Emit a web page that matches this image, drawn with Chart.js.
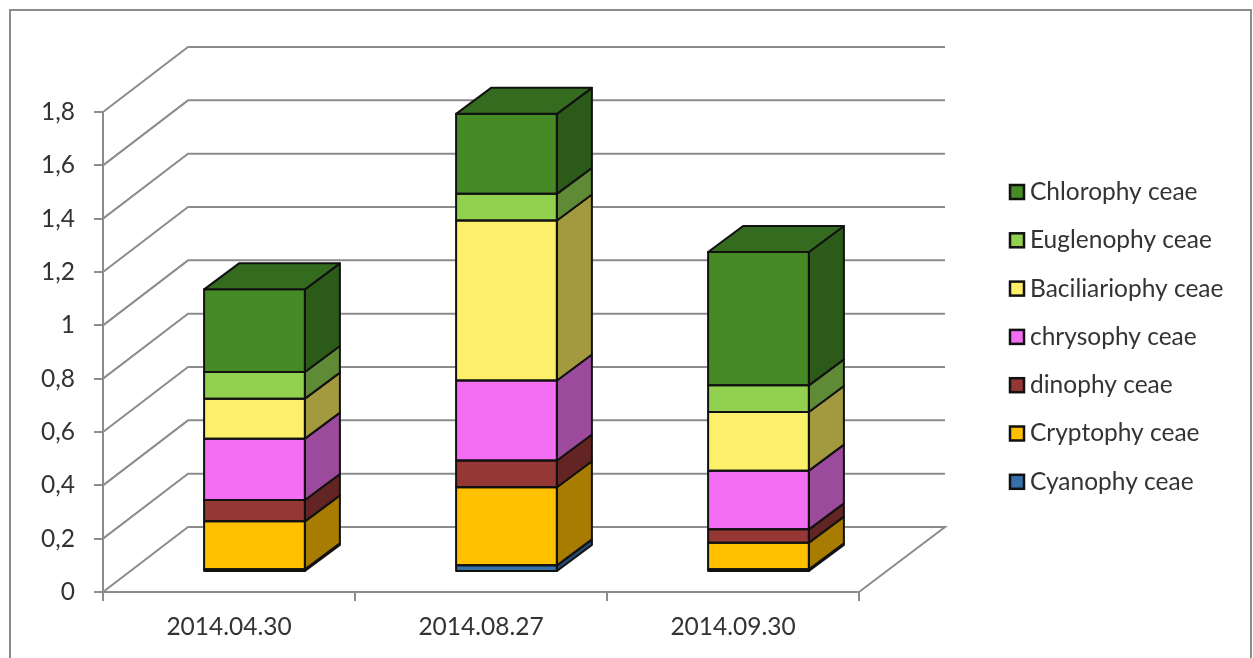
<!DOCTYPE html>
<html>
<head>
<meta charset="utf-8">
<style>
  html, body { margin: 0; padding: 0; background: #fff; }
  #wrap { position: relative; width: 1253px; height: 658px; }
</style>
<script src="https://cdn.jsdelivr.net/npm/chart.js@4"></script>
</head>
<body>
<div id="wrap"><canvas id="chart"></canvas></div>
<script>
const categories = ['2014.04.30', '2014.08.27', '2014.09.30'];

const cyanophyceae = [0.01, 0.025, 0.01];
const cryptophyceae = [0.18, 0.293, 0.1];
const dinophyceae = [0.08, 0.1, 0.05];
const chrysophyceae = [0.23, 0.3, 0.22];
const baciliariophyceae = [0.15, 0.6, 0.22];
const euglenophyceae = [0.1, 0.1, 0.1];
const chlorophyceae = [0.31, 0.3, 0.5];

const frontColors = ['#376fa8', '#ffc000', '#953735', '#f46ef4', '#fcf06a', '#92d050', '#468a26'];
const sideColors = ['#254a70', '#a87c00', '#632523', '#9c4a9c', '#a39a40', '#5f8a36', '#2c5a18'];
const topColor = '#356b1e';
const gridColor = '#8c8c8c';
const edgeColor = '#111';
const fontName = 'Lato, sans-serif';

// depth of the floor, and of the plane the bars stand on
const wallDX = 85, wallDY = -65;
const barDX = 25.5, barDY = -20;
const sideDX = 35, sideDY = -26;

function poly(ctx, pts, fill) {
  ctx.beginPath();
  pts.forEach((p, i) => i ? ctx.lineTo(p[0], p[1]) : ctx.moveTo(p[0], p[1]));
  ctx.closePath();
  ctx.fillStyle = fill;
  ctx.fill();
  ctx.stroke();
}

const frame3d = {
  id: 'frame3d',
  beforeDraw(chart) {
    const ctx = chart.ctx;
    ctx.save();
    ctx.strokeStyle = gridColor;
    ctx.lineWidth = 2;
    ctx.strokeRect(10, 10, 1241, 660);
    ctx.restore();
  },
  beforeDatasetsDraw(chart) {
    const ctx = chart.ctx;
    const { left, right } = chart.chartArea;
    const y = chart.scales.y;
    ctx.save();
    ctx.strokeStyle = gridColor;
    ctx.lineWidth = 2;
    y.ticks.forEach(t => {
      const py = y.getPixelForValue(t.value);
      ctx.beginPath();
      ctx.moveTo(left, py);
      ctx.lineTo(left + wallDX, py + wallDY);
      ctx.lineTo(right + wallDX + 1, py + wallDY);
      if (t.value === 0) ctx.lineTo(right, py);
      ctx.stroke();
    });
    ctx.restore();
    // bars sit part way into the depth of the floor
    ctx.save();
    ctx.translate(barDX, barDY);
  },
  afterDatasetsDraw(chart) {
    const ctx = chart.ctx;
    ctx.lineWidth = 2;
    ctx.strokeStyle = edgeColor;
    ctx.lineJoin = 'round';
    const last = chart.data.datasets.length - 1;
    chart.data.datasets.forEach((ds, i) => {
      chart.getDatasetMeta(i).data.forEach(bar => {
        const l = bar.x - bar.width / 2, r = bar.x + bar.width / 2;
        poly(ctx, [[r, bar.y], [r + sideDX, bar.y + sideDY], [r + sideDX, bar.base + sideDY], [r, bar.base]], sideColors[i]);
        ctx.strokeRect(l, bar.y, r - l, bar.base - bar.y);
        if (i === last) {
          poly(ctx, [[l, bar.y], [l + sideDX, bar.y + sideDY], [r + sideDX, bar.y + sideDY], [r, bar.y]], topColor);
        }
      });
    });
    ctx.restore();
  },
  afterDraw(chart) {
    // legend, top series first
    const ctx = chart.ctx;
    const sets = chart.data.datasets;
    ctx.save();
    ctx.font = '24.5px ' + fontName;
    ctx.textBaseline = 'middle';
    for (let i = sets.length - 1; i >= 0; i--) {
      const y = 192 + (sets.length - 1 - i) * 48.3;
      ctx.fillStyle = frontColors[i];
      ctx.strokeStyle = edgeColor;
      ctx.lineWidth = 2.5;
      ctx.fillRect(1010, y - 7, 14, 14);
      ctx.strokeRect(1010, y - 7, 14, 14);
      ctx.fillStyle = '#333';
      ctx.fillText(sets[i].label, 1030, y);
    }
    ctx.restore();
  }
};

const series = [
  ['Cyanophy ceae', cyanophyceae],
  ['Cryptophy ceae', cryptophyceae],
  ['dinophy ceae', dinophyceae],
  ['chrysophy ceae', chrysophyceae],
  ['Baciliariophy ceae', baciliariophyceae],
  ['Euglenophy ceae', euglenophyceae],
  ['Chlorophy ceae', chlorophyceae]
];

new Chart(document.getElementById('chart'), {
  type: 'bar',
  plugins: [frame3d],
  data: {
    labels: categories,
    datasets: series.map((s, i) => ({
      label: s[0],
      data: s[1],
      backgroundColor: frontColors[i],
      barPercentage: 1,
      categoryPercentage: 0.4,
      clip: false
    }))
  },
  options: {
    responsive: true,
    maintainAspectRatio: false,
    animation: false,
    layout: { padding: { top: 112, right: 394, left: 0, bottom: 0 } },
    plugins: { legend: { display: false }, tooltip: { enabled: false } },
    scales: {
      x: {
        stacked: true,
        afterFit(scale) { scale.height = 66; },
        border: { color: gridColor, width: 2 },
        grid: { drawOnChartArea: false, color: gridColor, lineWidth: 2, tickLength: 9 },
        ticks: { color: '#333', font: { family: fontName, size: 24.5 }, padding: 11, maxRotation: 0 }
      },
      y: {
        stacked: true,
        min: 0,
        max: 1.8,
        afterFit(scale) { scale.width = 103; },
        border: { color: gridColor, width: 2 },
        grid: { drawOnChartArea: false, color: gridColor, lineWidth: 2, tickLength: 9 },
        ticks: {
          stepSize: 0.2,
          color: '#333',
          padding: 19,
          font: { family: fontName, size: 24.5 },
          callback: v => String(Math.round(v * 10) / 10).replace('.', ',')
        }
      }
    }
  }
});
</script>
</body>
</html>
